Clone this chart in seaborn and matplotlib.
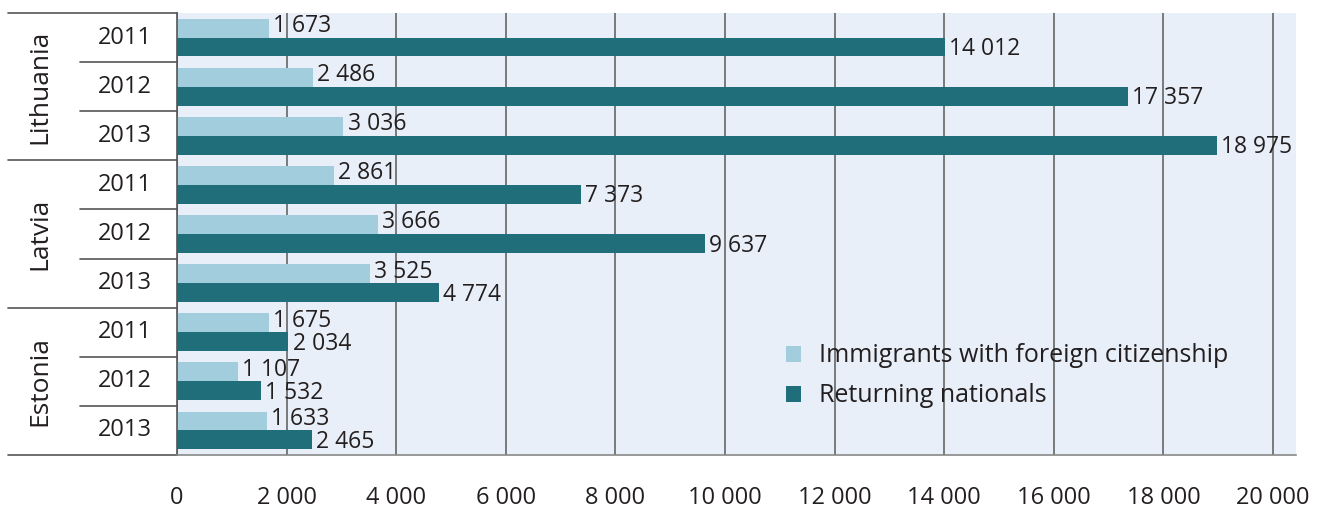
import matplotlib
matplotlib.use('Agg')
import matplotlib.pyplot as plt
import matplotlib.transforms as mtransforms
from matplotlib.patches import Patch
import pandas as pd
import seaborn as sns

# values
countries = ['Lithuania', 'Latvia', 'Estonia']
years = ['2011', '2012', '2013']
foreign = [1673, 2486, 3036, 2861, 3666, 3525, 1675, 1107, 1633]
returning = [14012, 17357, 18975, 7373, 9637, 4774, 2034, 1532, 2465]
series = ['Immigrants with foreign citizenship', 'Returning nationals']
colors = ['#a2cddc', '#216e7b']
xticks = list(range(0, 20001, 2000))

groups = [f'{c} {y}' for c in countries for y in years]
df = pd.DataFrame({
    'group': groups * 2,
    'series': [series[0]] * len(groups) + [series[1]] * len(groups),
    'value': foreign + returning,
})

sns.set_style('white')
plt.rcParams['font.family'] = ['Open Sans', 'DejaVu Sans']
txt = '#231f20'
fs = 17

fig = plt.figure(figsize=(13.29, 5.13), dpi=100)
ax = fig.add_axes([0.1332, 0.1131, 0.8420, 0.8616])
ax.set_facecolor('#e9eff8')

sns.barplot(data=df, y='group', x='value', hue='series', hue_order=series,
            palette=dict(zip(series, colors)), orient='h', width=0.77,
            saturation=1, linewidth=0, edgecolor='none', ax=ax, legend=False)

fmt = lambda v: f'{v:,}'.replace(',', ' ')
# nudge the two labels of a pair apart a little so they do not collide
for cont, vals, dy in zip(ax.containers, [foreign, returning], [1.5, -1.5]):
    anns = ax.bar_label(cont, labels=[fmt(v) for v in vals], padding=3,
                        fontsize=16.5, color=txt)
    for a in anns:
        a.xyann = (3, dy)

ax.set_ylim(8.5, -0.5)
ax.set_xlim(0, 20420)
ax.set_xticks(xticks)
ax.set_xticklabels([fmt(v) for v in xticks], fontsize=fs, color=txt)
ax.tick_params(axis='x', length=10, width=1.2, color='#666666', pad=12)
ax.set_yticks([])
ax.set_xlabel('')
ax.set_ylabel('')
ax.grid(axis='x', color='#666666', lw=1.2)
ax.set_axisbelow(True)
for s in ['top', 'right']:
    ax.spines[s].set_visible(False)
ax.spines['left'].set_color('#555555')
ax.spines['bottom'].set_color('#888888')
ax.spines['left'].set_linewidth(1.2)
ax.spines['bottom'].set_linewidth(1.2)

# left-side two-level labels
trans = mtransforms.blended_transform_factory(ax.transAxes, ax.transData)
for i, g in enumerate(groups):
    ax.text(-0.0465, i, g.split()[1], transform=trans, ha='center',
            va='center', fontsize=fs, color=txt)
for k, c in enumerate(countries):
    ax.text(-0.1224, 3 * k + 1, c, transform=trans, ha='center', va='center',
            rotation=90, fontsize=19, color=txt)
for b in [-0.5, 2.5, 5.5, 8.5]:
    ax.plot([-0.151, 0], [b, b], transform=trans, clip_on=False,
            color='#555555', lw=1.2)
for k in range(3):
    for b in [3 * k + 0.5, 3 * k + 1.5]:
        ax.plot([-0.0867, 0], [b, b], transform=trans, clip_on=False,
                color='#555555', lw=1.2)

handles = [Patch(facecolor=c, edgecolor='none') for c in colors]
ax.legend(handles, series, loc='upper left', bbox_to_anchor=(0.535, 0.275),
          frameon=False, fontsize=18, handlelength=0.6, handleheight=0.6,
          handletextpad=0.75, labelspacing=0.6, borderaxespad=0,
          labelcolor=txt)

fig.savefig('out.png', dpi=100)
